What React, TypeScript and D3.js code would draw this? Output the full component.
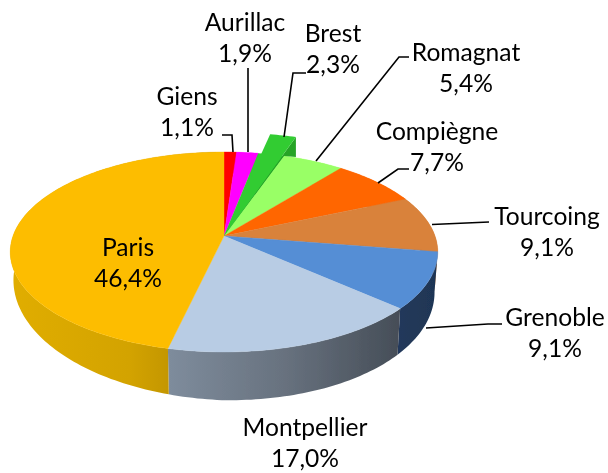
import React from "react";
import * as d3 from "d3";

const categories = ["Giens", "Aurillac", "Brest", "Romagnat", "Compiègne", "Tourcoing", "Grenoble", "Montpellier", "Paris"];
const shares = [1.1, 1.9, 2.3, 5.4, 7.7, 9.1, 9.1, 17.0, 46.4];
const tops = ["#ff0000", "#ff00ff", "#33cc33", "#99ff66", "#ff6600", "#d9823b", "#558ed5", "#b8cce4", "#fdbd00"];
const explodedCategory = "Brest";

// Layout (not data): label centres and leader lines
const labelCenters: Record<string, [number, number]> = {
  Giens: [187, 96], Aurillac: [245, 22], Brest: [333, 33], Romagnat: [466, 52],
  "Compiègne": [437, 131], Tourcoing: [547, 216], Grenoble: [555, 317], Montpellier: [305, 427], Paris: [128, 247],
};
const leaders: Record<string, [number, number][]> = {
  Giens: [[222, 135], [232, 135], [233, 152]],
  Aurillac: [[248, 68], [248, 152]],
  Brest: [[306, 73], [293, 73], [284, 137]],
  Romagnat: [[409, 57], [399, 57], [316, 161]],
  "Compiègne": [[409, 169], [398, 169], [378, 183]],
  Tourcoing: [[489, 222], [432, 224.5]],
  Grenoble: [[502, 324], [488, 324], [426, 328]],
};

const W = 608, H = 473;
const apex: [number, number] = [224, 236];
const K = -0.16, A = 97.4, C = 211;
const explodeOffset: [number, number] = [12, -19];
const explodeWall = 20;

function topPoint(theta: number): [number, number] {
  const u = Math.sin(theta), v = -Math.cos(theta);
  const den = 1 + K * v;
  return [apex[0] + (C * u) / den, apex[1] + (A * v) / den];
}
function bottomPoint(theta: number): [number, number] {
  const u = Math.sin(theta), v = -Math.cos(theta);
  const p = topPoint(theta);
  const s = 0.985;
  const skew = u < 0 ? 9 * u : 3 * u;
  return [apex[0] + (p[0] - apex[0]) * s, apex[1] + (p[1] - apex[1]) * s + 35 + 15 * v + skew];
}
function samples(a0: number, a1: number): number[] {
  const n = Math.max(2, Math.ceil((a1 - a0) / 0.02));
  return d3.range(n + 1).map((i) => a0 + ((a1 - a0) * i) / n);
}
const line = d3.line().curve(d3.curveLinear);

const pie = d3.pie<number>().sort(null).value((d) => d).startAngle(0).endAngle(2 * Math.PI);
const arcs = pie(shares);

type WallDef = { name: string; stops: [number, string][] };
const wallDefs: WallDef[] = [
  { name: "Paris", stops: [[0, "#e0ad00"], [0.55, "#d3a300"], [0.82, "#bd9100"], [1, "#a67f00"]] },
  { name: "Montpellier", stops: [[0, "#7e8c9c"], [0.5, "#68727f"], [1, "#464e58"]] },
  { name: "Grenoble", stops: [[0, "#23395b"], [1, "#1f3655"]] },
];

export default function App() {
  const walls = arcs
    .map((a, i) => ({ a, name: categories[i], fill: tops[i] }))
    .filter((d) => d.name !== explodedCategory);
  return (
    <svg width={W} height={H} viewBox={`0 0 ${W} ${H}`} style={{ position: "absolute", left: 0, top: 0, background: "#fff" }}
      fontFamily="Lato, 'Open Sans', sans-serif" fontSize={24.6} fill="#000">
      <defs>
        <filter id="soft" x="-5%" y="-5%" width="110%" height="110%">
          <feGaussianBlur stdDeviation="0.55" />
        </filter>
        {wallDefs.map((w) => {
          const idx = categories.indexOf(w.name);
          const a = arcs[idx];
          const xs = samples(a.startAngle, a.endAngle).map(bottomPoint).map((p) => p[0]);
          return (
            <linearGradient key={w.name} id={`wall-${idx}`} gradientUnits="userSpaceOnUse"
              x1={d3.min(xs)} x2={d3.max(xs)} y1={0} y2={0}>
              {w.stops.map(([o, c]) => <stop key={o} offset={o} stopColor={c} />)}
            </linearGradient>
          );
        })}
      </defs>
      <g filter="url(#soft)">
        {walls.map(({ a, name, fill }) => {
          const ts = samples(a.startAngle, a.endAngle);
          const idx = categories.indexOf(name);
          const hasGrad = wallDefs.some((w) => w.name === name);
          const pts = [...ts.map(topPoint), ...ts.slice().reverse().map(bottomPoint)];
          return <path key={name} d={line(pts as any) + "Z"} fill={hasGrad ? `url(#wall-${idx})` : fill} />;
        })}
        {walls.map(({ a, name, fill }) => {
          const pts = [apex, ...samples(a.startAngle, a.endAngle).map(topPoint)];
          return <path key={name} d={line(pts as any) + "Z"} fill={fill} stroke={fill} strokeWidth={0.4} />;
        })}
        {arcs.map((a, i) => {
          if (categories[i] !== explodedCategory) return null;
          const base = samples(a.startAngle, a.endAngle).map(topPoint);
          const rim = base.map((p) => [p[0] + explodeOffset[0], p[1] + explodeOffset[1]] as [number, number]);
          const end = rim[rim.length - 1];
          const wall = [apex, end, [end[0], end[1] + explodeWall], topPoint(a.endAngle)];
          return (
            <g key={categories[i]}>
              <path d={line([apex, ...base] as any) + "Z"} fill={tops[i]} />
              <path d={line(wall as any) + "Z"} fill="#28a428" />
              <path d={line([apex, ...rim] as any) + "Z"} fill={tops[i]} />
            </g>
          );
        })}
        {Object.entries(leaders).map(([k, pts]) => (
          <path key={k} d={line(pts as any) as string} fill="none" stroke="#000" strokeWidth={1.6} />
        ))}
        {categories.map((c, i) => {
          const [x, y] = labelCenters[c];
          return (
            <g key={c} textAnchor="middle">
              <text x={x} y={y + 8.5}>{c}</text>
              <text x={x} y={y + 40}>{shares[i].toFixed(1).replace(".", ",")}%</text>
            </g>
          );
        })}
      </g>
    </svg>
  );
}
